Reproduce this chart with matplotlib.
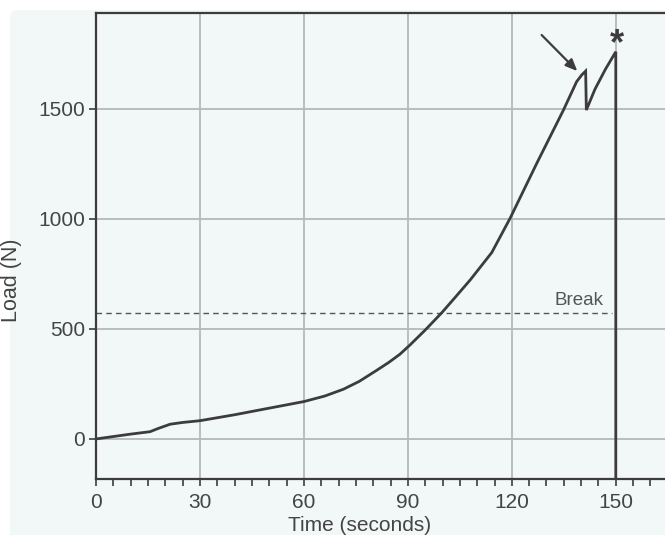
import matplotlib.pyplot as plt
from matplotlib.patches import FancyBboxPatch

# load curve (seconds, newtons)
time_s = [0, 5, 10, 15.6, 18, 21.4, 25, 30, 40, 47.3, 55, 60, 66, 71.4, 76, 81,
          84.5, 87.7, 90.6, 95, 99.8, 104, 108, 114.2, 119.5, 127.2, 134.9, 138.7,
          140.2, 141.3, 141.5, 144, 147, 150, 150]
load_n = [0, 11, 22, 33, 48, 67, 75, 83, 110, 132, 155, 170, 195, 226, 262, 312,
          348, 385, 427, 495, 574, 650, 723, 847, 1003, 1253, 1495, 1624,
          1655, 1672, 1495, 1590, 1680, 1760, -250]

break_load = 574
break_time = 150
x_ticks = [0, 30, 60, 90, 120, 150]
y_ticks = [0, 500, 1000, 1500]

ink = "#3c3c3c"
bg = "#f2f7f7"

plt.rcParams["font.family"] = ["Liberation Sans", "DejaVu Sans"]

fig = plt.figure(figsize=(6.65, 5.35), dpi=100, facecolor="white")
fig.patches.append(FancyBboxPatch((10 / 665, -0.1), 1.2, 1.1 - 10 / 535,
                                  boxstyle="round,pad=0,rounding_size=0.012",
                                  transform=fig.transFigure, facecolor=bg,
                                  edgecolor="none", zorder=-10))

ax = fig.add_axes([96 / 665, 1 - 479 / 535, 1 - 96 / 665, (479 - 13) / 535])
ax.set_zorder(1)
ax.set_facecolor(bg)

ax.plot(time_s, load_n, color=ink, lw=2.0, solid_joinstyle="miter", zorder=3)
ax.plot([0, break_time - 1], [break_load, break_load], color="#555555",
        lw=1.0, ls=(0, (4, 3)), zorder=2)
ax.text(146.5, break_load + 18, "Break", ha="right", va="bottom",
        fontsize=13.5, color="#555555")

ax.annotate("", xy=(138.9, 1672), xytext=(128.6, 1836),
            arrowprops=dict(arrowstyle="-|>,head_length=0.7,head_width=0.3",
                            color=ink, lw=1.6, shrinkA=0, shrinkB=0))
ax.text(150.3, 1790, "*", ha="center", va="center", fontsize=26,
        fontweight="bold", color=ink)

ax.set_xlim(0, 164.2)
ax.set_ylim(-182, 1936)
ax.set_xticks(x_ticks)
ax.set_xticks(range(0, 165, 5), minor=True)
ax.set_yticks(y_ticks)
ax.grid(True, which="major", color="#b4b8b8", lw=1.3)
ax.set_axisbelow(True)

ax.tick_params(axis="both", which="both", colors=ink, labelcolor="#444444",
               labelsize=15, length=5, width=1.2, direction="out")
ax.tick_params(axis="x", pad=5)
ax.tick_params(axis="y", pad=3)

for side in ["left", "top", "bottom"]:
    ax.spines[side].set_color(ink)
    ax.spines[side].set_linewidth(1.6)
ax.spines["right"].set_visible(False)

ax.set_xlabel("Time (seconds)", fontsize=15, color="#444444")
ax.set_ylabel("Load (N)", fontsize=15.5, color="#444444")
ax.xaxis.set_label_coords(0.464, -0.08)
ax.yaxis.set_label_coords(-0.13, 0.427)

fig.savefig("out.png", dpi=100, facecolor=fig.get_facecolor())
